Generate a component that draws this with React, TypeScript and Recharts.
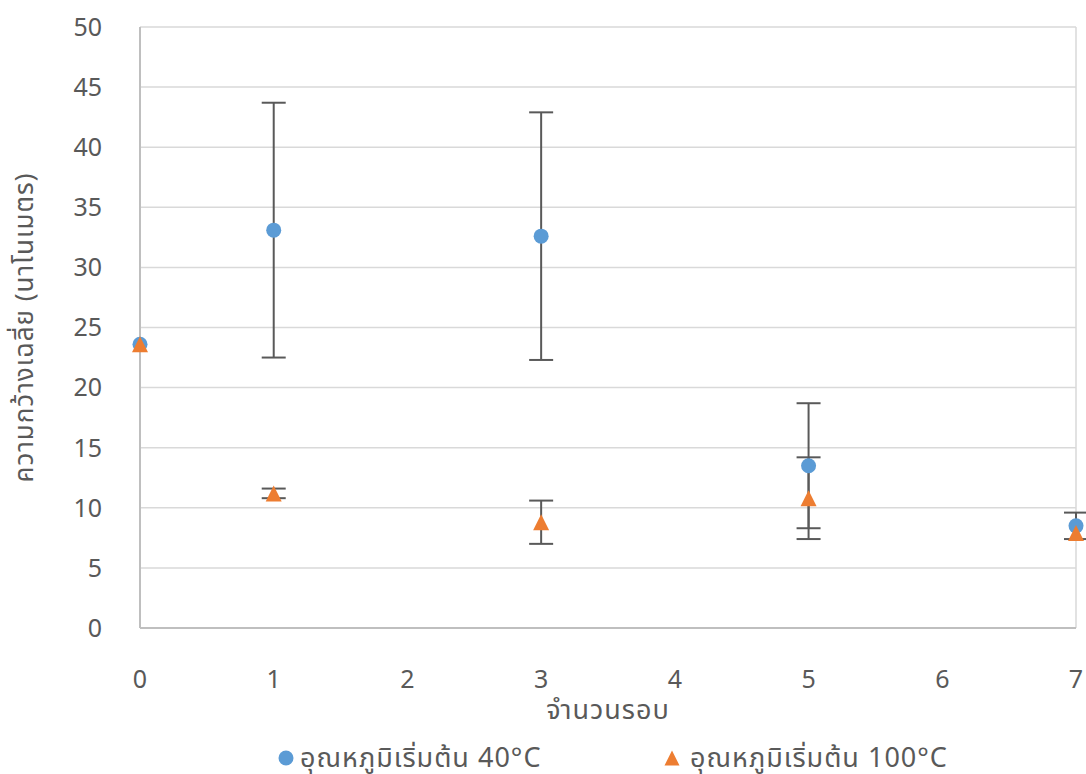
import {
  CartesianGrid,
  ErrorBar,
  ReferenceLine,
  Scatter,
  ScatterChart,
  XAxis,
  YAxis,
} from "recharts";

const ROUNDS = [0, 1, 3, 5, 7];
const WIDTH_40C = [23.6, 33.1, 32.6, 13.5, 8.5];
const ERR_40C = [0, 10.6, 10.3, 5.2, 1.1];
const WIDTH_100C = [23.6, 11.2, 8.8, 10.8, 7.9];
const ERR_100C = [0, 0.4, 1.8, 3.4, 0];
const X_TICKS = [0, 1, 2, 3, 4, 5, 6, 7];
const Y_TICKS = [0, 5, 10, 15, 20, 25, 30, 35, 40, 45, 50];

const LABEL_40C = "อุณหภูมิเริ่มต้น 40°C";
const LABEL_100C = "อุณหภูมิเริ่มต้น 100°C";

const BLUE = "#5b9bd5";
const ORANGE = "#ed7d31";
const TEXT = "#595959";
const FONT = "'Noto Sans', 'Noto Sans Thai', sans-serif";

const data40 = ROUNDS.map((x, i) => ({ x, y: WIDTH_40C[i], err: ERR_40C[i] }));
const data100 = ROUNDS.map((x, i) => ({ x, y: WIDTH_100C[i], err: ERR_100C[i] }));

function Dot(props: any) {
  const { cx, cy } = props;
  if (cx == null || cy == null) return null;
  return <circle cx={cx} cy={cy} r={7.5} fill={BLUE} />;
}

function Tri(props: any) {
  const { cx, cy } = props;
  if (cx == null || cy == null) return null;
  return (
    <polygon
      points={`${cx},${cy - 8} ${cx + 8},${cy + 8} ${cx - 8},${cy + 8}`}
      fill={ORANGE}
    />
  );
}

const NoMark = () => null;
const tickStyle = { fontSize: 25, fill: TEXT, fontFamily: FONT };
const SIZE = { width: 1086, height: 774 };
const MARGIN = { top: 27, right: 10, left: 0, bottom: 0 };

// Excel draws error bars under the markers, so the markers go in a second
// chart laid exactly over the first one.
function Markers() {
  return (
    <ScatterChart {...SIZE} margin={MARGIN}>
      <XAxis type="number" dataKey="x" domain={[0, 7]} ticks={X_TICKS} height={146} tick={false} axisLine={false} tickLine={false} />
      <YAxis type="number" dataKey="y" domain={[0, 50]} ticks={Y_TICKS} width={140} tick={false} axisLine={false} tickLine={false} />
      <Scatter name={LABEL_40C} data={data40} shape={<Dot />} isAnimationActive={false} />
      <Scatter name={LABEL_100C} data={data100} shape={<Tri />} isAnimationActive={false} />
    </ScatterChart>
  );
}

export default function App() {
  return (
    <div style={{ position: "absolute", left: 0, top: 0, ...SIZE, fontFamily: FONT }}>
      <ScatterChart {...SIZE} margin={MARGIN}>
        <CartesianGrid vertical={false} stroke="#d9d9d9" strokeWidth={1.5} />
        <XAxis
          type="number"
          dataKey="x"
          domain={[0, 7]}
          ticks={X_TICKS}
          height={146}
          tickSize={0}
          tickMargin={42}
          stroke="#bfbfbf"
          strokeWidth={2}
          tick={tickStyle}
          label={{
            value: "จำนวนรอบ",
            position: "insideTop",
            offset: 72,
            style: { fontSize: 27, fill: TEXT, fontFamily: FONT, letterSpacing: 1 },
          }}
        />
        <YAxis
          type="number"
          dataKey="y"
          domain={[0, 50]}
          ticks={Y_TICKS}
          width={140}
          tickSize={0}
          tickMargin={38}
          stroke="#bfbfbf"
          strokeWidth={2}
          tick={tickStyle}
          label={{
            value: "ความกว้างเฉลี่ย (นาโนเมตร)",
            angle: -90,
            position: "insideLeft",
            offset: 24,
            style: { fontSize: 26, fill: TEXT, fontFamily: FONT, textAnchor: "middle", letterSpacing: 1 },
          }}
        />
        <ReferenceLine x={7} stroke="#d9d9d9" strokeWidth={1.5} />
        <Scatter data={data40} shape={<NoMark />} isAnimationActive={false} legendType="none">
          <ErrorBar dataKey="err" direction="y" width={12} stroke="#595959" strokeWidth={2} />
        </Scatter>
        <Scatter data={data100} shape={<NoMark />} isAnimationActive={false} legendType="none">
          <ErrorBar dataKey="err" direction="y" width={12} stroke="#595959" strokeWidth={2} />
        </Scatter>
      </ScatterChart>
      <div style={{ position: "absolute", left: 0, top: 0 }}>
        <Markers />
      </div>
      <div
        style={{
          position: "absolute",
          top: 740,
          left: 0,
          width: 1086,
          height: 34,
          fontSize: 27,
          color: TEXT,
          lineHeight: "34px",
          letterSpacing: 1,
        }}
      >
        <svg width={16} height={16} style={{ position: "absolute", left: 278, top: 10 }}>
          <circle cx={8} cy={8} r={7.5} fill={BLUE} />
        </svg>
        <span style={{ position: "absolute", left: 300, top: 0, whiteSpace: "nowrap" }}>{LABEL_40C}</span>
        <svg width={16} height={16} style={{ position: "absolute", left: 664, top: 10 }}>
          <polygon points="8,0.5 15.5,15.5 0.5,15.5" fill={ORANGE} />
        </svg>
        <span style={{ position: "absolute", left: 690, top: 0, whiteSpace: "nowrap" }}>{LABEL_100C}</span>
      </div>
    </div>
  );
}
